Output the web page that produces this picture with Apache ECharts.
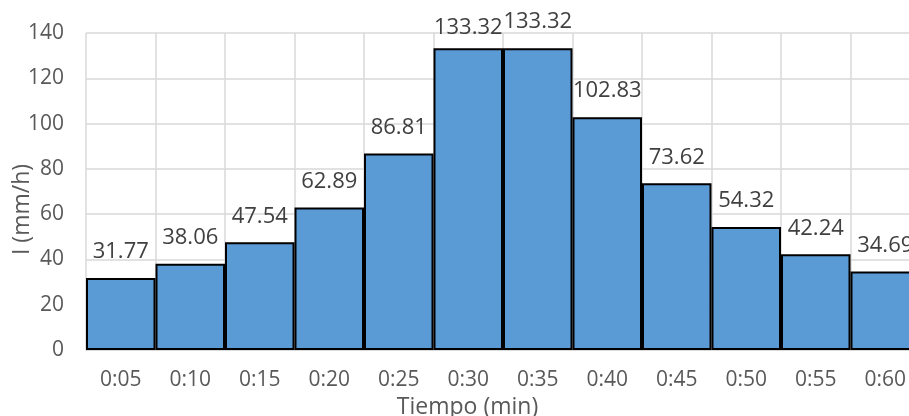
<!DOCTYPE html>
<html>
<head>
<meta charset="utf-8">
<script src="https://cdn.jsdelivr.net/npm/echarts@6/dist/echarts.min.js"></script>
<style>
  html, body { margin: 0; padding: 0; background: #fff; }
  #chart { width: 909px; height: 416px; }
</style>
</head>
<body>
<div id="chart"></div>
<script>
// Rainfall intensity per 5-minute interval
const categories = ['0:05', '0:10', '0:15', '0:20', '0:25', '0:30', '0:35', '0:40', '0:45', '0:50', '0:55', '0:60'];
const intensity = [31.77, 38.06, 47.54, 62.89, 86.81, 133.32, 133.32, 102.83, 73.62, 54.32, 42.24, 34.69];
const yTicks = [0, 20, 40, 60, 80, 100, 120, 140];

const FONT = '"Open Sans", "Liberation Sans", sans-serif';

const chart = echarts.init(document.getElementById('chart'), null, { renderer: 'canvas' });

const barData = intensity.map((v, i) => {
  const item = { value: v };
  // the first of the two peak bars keeps its label closer to the bar
  if (i === 5) item.label = { distance: 9 };
  return item;
});

chart.setOption({
  animation: false,
  backgroundColor: '#ffffff',
  grid: { left: 86, right: -11, top: 33, bottom: 66, containLabel: false, outerBoundsMode: 'none' },
  xAxis: {
    type: 'category',
    data: categories,
    boundaryGap: true,
    axisTick: { show: false },
    axisLine: { show: true, lineStyle: { color: '#D9D9D9', width: 1 } },
    splitLine: { show: true, lineStyle: { color: '#D9D9D9', width: 1.5 } },
    axisLabel: { color: '#595959', fontSize: 21, fontFamily: FONT, margin: 20 },
    name: 'Tiempo (min)',
    nameLocation: 'middle',
    nameGap: 43,
    nameTextStyle: { color: '#595959', fontSize: 23, fontFamily: FONT, padding: [0, 71, 0, 0] }
  },
  yAxis: {
    type: 'value',
    min: yTicks[0],
    max: yTicks[yTicks.length - 1],
    interval: yTicks[1] - yTicks[0],
    axisLine: { show: false },
    axisTick: { show: false },
    splitLine: { show: true, lineStyle: { color: '#D9D9D9', width: 1.5 } },
    axisLabel: { color: '#595959', fontSize: 21, fontFamily: FONT, margin: 22 },
    name: 'I (mm/h)',
    nameLocation: 'middle',
    nameGap: 52,
    nameMoveOverlap: false,
    nameTextStyle: { color: '#595959', fontSize: 23, fontFamily: FONT, padding: [0, 36, 0, 0] }
  },
  series: [{
    type: 'bar',
    data: barData,
    barCategoryGap: '0%',
    itemStyle: { color: '#5B9BD5', borderColor: '#000000', borderWidth: 2 },
    label: {
      show: true,
      position: 'top',
      distance: 15,
      color: '#404040',
      fontSize: 22,
      fontFamily: FONT,
      formatter: p => p.value.toFixed(2)
    }
  }]
});
</script>
</body>
</html>
